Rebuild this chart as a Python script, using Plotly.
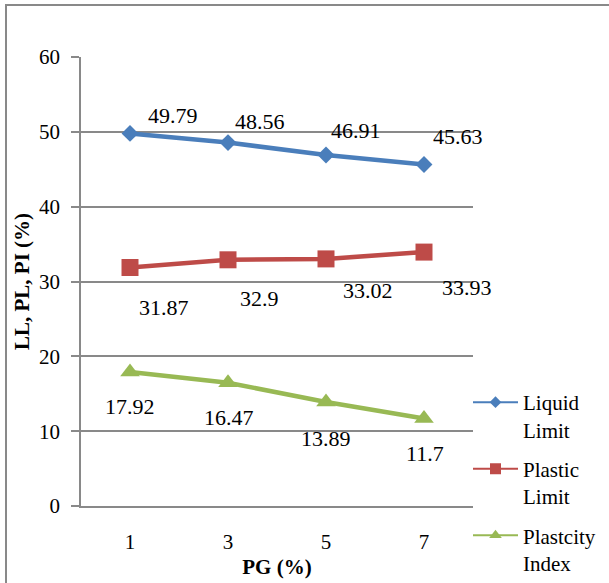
import plotly.graph_objects as go

categories = ["1", "3", "5", "7"]
liquid_limit = [49.79, 48.56, 46.91, 45.63]
plastic_limit = [31.87, 32.9, 33.02, 33.93]
plasticity_index = [17.92, 16.47, 13.89, 11.7]
y_ticks = [0, 10, 20, 30, 40, 50, 60]

series_names = ["Liquid<br>Limit", "Plastic<br>Limit", "Plastcity<br>Index"]
colors = ["#4A7EBB", "#BE4B48", "#98B954"]
symbols = ["diamond", "square", "triangle-up"]
msizes = [13, 17, 17]
# label offsets (px) relative to each marker: (dx, dy down)
label_offsets = [
    [(43, -18), (32, -21), (30, -24), (34, -28)],
    [(34, 40), (31, 39), (42, 32), (43, 35)],
    [(0, 35), (1, 35), (0, 36), (1, 35)],
]

FONT = "Times New Roman, Liberation Serif, serif"
GRID = "#898989"

W, H = 609, 583
L, R, T, B = 81, 609 - 473, 57, 583 - 506
pw, ph = W - L - R, H - T - B

fig = go.Figure()
all_series = [liquid_limit, plastic_limit, plasticity_index]
for i, vals in enumerate(all_series):
    fig.add_trace(go.Scatter(
        x=categories, y=vals, mode="lines+markers", showlegend=False,
        line=dict(color=colors[i], width=4.5),
        marker=dict(symbol=symbols[i], size=msizes[i], color=colors[i]),
    ))
for i in range(3):
    fig.add_trace(go.Scatter(
        x=[None], y=[None], mode="lines+markers", name=series_names[i],
        legendgroup=str(i),
        line=dict(color=colors[i], width=2),
        marker=dict(symbol=symbols[i], size=[9, 11, 11][i], color=colors[i]),
    ))

for i, vals in enumerate(all_series):
    for j, v in enumerate(vals):
        dx, dy = label_offsets[i][j]
        fig.add_annotation(
            x=j, y=v, xref="x", yref="y", text=f"{v:g}",
            showarrow=False, xshift=dx, yshift=-dy,
            font=dict(family=FONT, size=22, color="black"),
        )

# outer border
fig.add_shape(type="rect", xref="paper", yref="paper",
              x0=(6 - L) / pw, x1=(640 - L) / pw,
              y0=(506 - 640) / ph, y1=(506 - 5) / ph,
              line=dict(color=GRID, width=2), fillcolor="rgba(0,0,0,0)", layer="below")

fig.update_layout(
    width=W, height=H,
    margin=dict(l=L, r=R, t=T, b=B, autoexpand=False),
    paper_bgcolor="white", plot_bgcolor="white",
    font=dict(family=FONT, color="black"),
    showlegend=True,
    legend=dict(
        x=(468 - L) / pw, y=(506 - 382) / ph, xanchor="left", yanchor="top",
        font=dict(family=FONT, size=21, color="black"),
        tracegroupgap=9, valign="top", bgcolor="rgba(0,0,0,0)",
        itemwidth=45,
    ),
    xaxis=dict(
        type="category", range=[-0.5, 3.5], showgrid=False, zeroline=False,
        showline=True, linecolor=GRID, linewidth=1.5,
        ticks="", ticklabelstandoff=16,
        tickfont=dict(family=FONT, size=21, color="black"),
        title=dict(text="<b>PG (%)</b>", font=dict(family=FONT, size=21, color="black"), standoff=6),
        automargin=False,
    ),
    yaxis=dict(
        range=[0, 60], tickvals=y_ticks, showgrid=True, gridcolor=GRID, gridwidth=1.5,
        zeroline=False, showline=True, linecolor=GRID, linewidth=1.5,
        ticks="outside", ticklen=8, tickcolor=GRID, tickwidth=1.5,
        ticklabelstandoff=7,
        tickfont=dict(family=FONT, size=21, color="black"),
        title=dict(text="<b>LL, PL, PI (%)</b>", font=dict(family=FONT, size=21, color="black"), standoff=4),
        automargin=False,
    ),
)

fig.write_html("out.html", config={"displayModeBar": False},
               post_script="document.body.style.margin='0';")
